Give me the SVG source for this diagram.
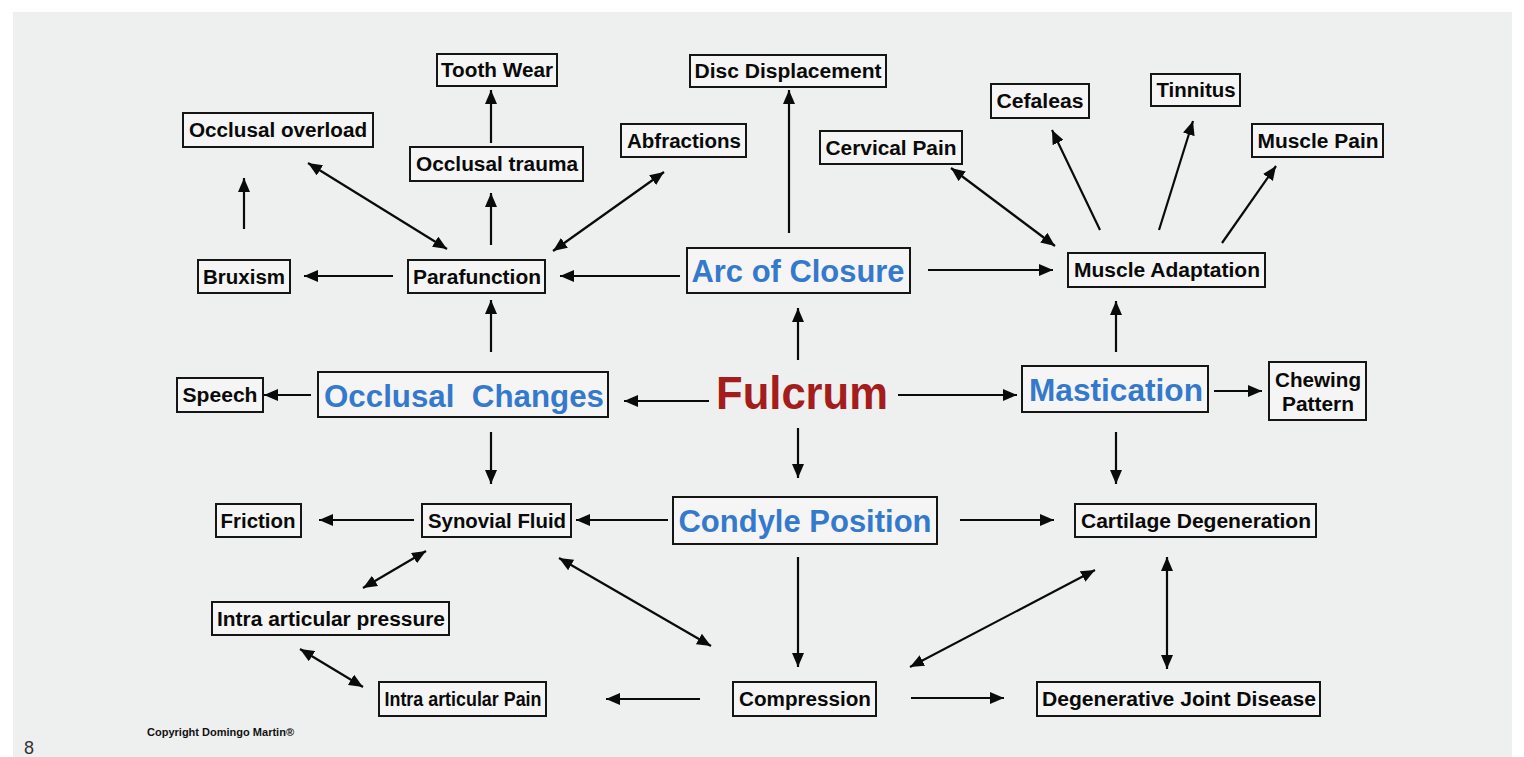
<svg xmlns="http://www.w3.org/2000/svg" width="1524" height="757" viewBox="0 0 1524 757">
<style>
.bx{fill:#f4f5f4;stroke:#151515;stroke-width:2}
.t{font-family:"Liberation Sans",Arial,sans-serif;font-weight:bold;font-size:20px;fill:#0a0a0a;text-anchor:middle}
.b{font-family:"Liberation Sans",Arial,sans-serif;font-weight:bold;font-size:32px;fill:#3579cc;text-anchor:middle}
.r{font-family:"Liberation Sans",Arial,sans-serif;font-weight:bold;font-size:47px;fill:#a51c1c;text-anchor:middle}
.c line{stroke:#0a0a0a;stroke-width:2.2;fill:none}
.one{marker-end:url(#ah)}
.two{marker-start:url(#ah);marker-end:url(#ah)}
</style>
<defs>
<marker id="ah" markerUnits="userSpaceOnUse" markerWidth="14" markerHeight="12" refX="14" refY="6" orient="auto-start-reverse" viewBox="0 0 14 12">
<path d="M0,0 L14,6 L0,12 z" fill="#0a0a0a"/>
</marker>
</defs>
<rect x="0" y="0" width="1524" height="757" fill="#ffffff"/>
<rect x="13" y="12" width="1499" height="745" fill="#eef0ef"/>

<g class="c" id="connectors">
<line class="one" x1="244" y1="229" x2="244" y2="178"/>
<line class="two" x1="447" y1="249" x2="308" y2="163"/>
<line class="one" x1="491" y1="245" x2="491" y2="193"/>
<line class="one" x1="491" y1="143" x2="491" y2="90"/>
<line class="two" x1="553" y1="251" x2="664" y2="172"/>
<line class="one" x1="393" y1="276" x2="304" y2="276"/>
<line class="one" x1="680" y1="276" x2="560" y2="276"/>
<line class="one" x1="789" y1="233" x2="789" y2="90"/>
<line class="one" x1="928" y1="270" x2="1053" y2="270"/>
<line class="two" x1="1055" y1="246" x2="951" y2="168"/>
<line class="one" x1="1100" y1="230" x2="1052" y2="130"/>
<line class="one" x1="1159" y1="230" x2="1193" y2="121"/>
<line class="one" x1="1222" y1="243" x2="1276" y2="166"/>
<line class="one" x1="1116" y1="352" x2="1116" y2="301"/>
<line class="one" x1="491" y1="352" x2="491" y2="300"/>
<line class="one" x1="798" y1="360" x2="798" y2="308"/>
<line class="one" x1="311" y1="395" x2="264" y2="395"/>
<line class="one" x1="709" y1="401" x2="624" y2="401"/>
<line class="one" x1="898" y1="395" x2="1017" y2="395"/>
<line class="one" x1="1214" y1="391" x2="1262" y2="391"/>
<line class="one" x1="798" y1="428" x2="798" y2="478"/>
<line class="one" x1="491" y1="432" x2="491" y2="484"/>
<line class="one" x1="1116" y1="432" x2="1116" y2="484"/>
<line class="one" x1="414" y1="520" x2="319" y2="520"/>
<line class="one" x1="668" y1="520" x2="576" y2="520"/>
<line class="one" x1="960" y1="520" x2="1054" y2="520"/>
<line class="two" x1="426" y1="551" x2="363" y2="588"/>
<line class="two" x1="559" y1="558" x2="711" y2="646"/>
<line class="one" x1="798" y1="557" x2="798" y2="667"/>
<line class="two" x1="910" y1="667" x2="1095" y2="570"/>
<line class="two" x1="1167" y1="557" x2="1167" y2="669"/>
<line class="two" x1="300" y1="649" x2="363" y2="687"/>
<line class="one" x1="700" y1="699" x2="606" y2="699"/>
<line class="one" x1="911" y1="698" x2="1004" y2="698"/>
</g>

<g id="tooth-wear"><rect class="bx" x="437" y="54" width="120" height="32"/><text class="t" x="497" y="77" textLength="112" lengthAdjust="spacingAndGlyphs">Tooth Wear</text></g>
<g id="occlusal-overload"><rect class="bx" x="183" y="113" width="190" height="34"/><text class="t" x="278" y="137" textLength="178" lengthAdjust="spacingAndGlyphs">Occlusal overload</text></g>
<g id="occlusal-trauma"><rect class="bx" x="410" y="147" width="173" height="34"/><text class="t" x="497" y="171" textLength="162" lengthAdjust="spacingAndGlyphs">Occlusal trauma</text></g>
<g id="abfractions"><rect class="bx" x="621" y="124" width="125" height="33"/><text class="t" x="684" y="148" textLength="114" lengthAdjust="spacingAndGlyphs">Abfractions</text></g>
<g id="disc-displacement"><rect class="bx" x="690" y="55" width="196" height="32"/><text class="t" x="788" y="78" textLength="187" lengthAdjust="spacingAndGlyphs">Disc Displacement</text></g>
<g id="cervical-pain"><rect class="bx" x="820" y="131" width="142" height="33"/><text class="t" x="891" y="155" textLength="131" lengthAdjust="spacingAndGlyphs">Cervical Pain</text></g>
<g id="cefaleas"><rect class="bx" x="991" y="84" width="98" height="34"/><text class="t" x="1040" y="108" textLength="87" lengthAdjust="spacingAndGlyphs">Cefaleas</text></g>
<g id="tinnitus"><rect class="bx" x="1151" y="74" width="89" height="32"/><text class="t" x="1196" y="97" textLength="79" lengthAdjust="spacingAndGlyphs">Tinnitus</text></g>
<g id="muscle-pain"><rect class="bx" x="1252" y="124" width="131" height="33"/><text class="t" x="1318" y="148" textLength="121" lengthAdjust="spacingAndGlyphs">Muscle Pain</text></g>
<g id="bruxism"><rect class="bx" x="198" y="260" width="92" height="33"/><text class="t" x="244" y="284" textLength="82" lengthAdjust="spacingAndGlyphs">Bruxism</text></g>
<g id="parafunction"><rect class="bx" x="408" y="260" width="137" height="33"/><text class="t" x="477" y="284" textLength="128" lengthAdjust="spacingAndGlyphs">Parafunction</text></g>
<g id="arc-of-closure"><rect class="bx" x="687" y="248" width="223" height="45"/><text class="b" x="798" y="282" textLength="213" lengthAdjust="spacingAndGlyphs">Arc of Closure</text></g>
<g id="muscle-adaptation"><rect class="bx" x="1068" y="253" width="197" height="34"/><text class="t" x="1167" y="277" textLength="186" lengthAdjust="spacingAndGlyphs">Muscle Adaptation</text></g>
<g id="speech"><rect class="bx" x="177" y="378" width="86" height="34"/><text class="t" x="220" y="402" textLength="75" lengthAdjust="spacingAndGlyphs">Speech</text></g>
<g id="occlusal-changes"><rect class="bx" x="318" y="372" width="290" height="45"/><text class="b" x="464" y="407" textLength="280" lengthAdjust="spacingAndGlyphs" xml:space="preserve">Occlusal  Changes</text></g>
<g id="fulcrum"><text class="r" x="802" y="409" textLength="172" lengthAdjust="spacingAndGlyphs">Fulcrum</text></g>
<g id="mastication"><rect class="bx" x="1022" y="366" width="186" height="46"/><text class="b" x="1116" y="401" textLength="174" lengthAdjust="spacingAndGlyphs">Mastication</text></g>
<g id="chewing-pattern"><rect class="bx" x="1269" y="362" width="97" height="58"/><text class="t" x="1318" y="387" textLength="86" lengthAdjust="spacingAndGlyphs">Chewing</text><text class="t" x="1318" y="411" textLength="72" lengthAdjust="spacingAndGlyphs">Pattern</text></g>
<g id="friction"><rect class="bx" x="216" y="504" width="85" height="33"/><text class="t" x="258" y="528" textLength="75" lengthAdjust="spacingAndGlyphs">Friction</text></g>
<g id="synovial-fluid"><rect class="bx" x="422" y="504" width="149" height="33"/><text class="t" x="497" y="528" textLength="138" lengthAdjust="spacingAndGlyphs">Synovial Fluid</text></g>
<g id="condyle-position"><rect class="bx" x="673" y="497" width="264" height="47"/><text class="b" x="805" y="532" textLength="253" lengthAdjust="spacingAndGlyphs">Condyle Position</text></g>
<g id="cartilage-degeneration"><rect class="bx" x="1075" y="504" width="241" height="33"/><text class="t" x="1196" y="528" textLength="230" lengthAdjust="spacingAndGlyphs">Cartilage Degeneration</text></g>
<g id="intra-articular-pressure"><rect class="bx" x="212" y="602" width="237" height="33"/><text class="t" x="331" y="626" textLength="228" lengthAdjust="spacingAndGlyphs">Intra articular pressure</text></g>
<g id="intra-articular-pain"><rect class="bx" x="379" y="682" width="167" height="34"/><text class="t" x="463" y="706" textLength="157" lengthAdjust="spacingAndGlyphs">Intra articular Pain</text></g>
<g id="compression"><rect class="bx" x="733" y="682" width="143" height="34"/><text class="t" x="805" y="706" textLength="132" lengthAdjust="spacingAndGlyphs">Compression</text></g>
<g id="degenerative-joint-disease"><rect class="bx" x="1037" y="682" width="283" height="34"/><text class="t" x="1179" y="706" textLength="274" lengthAdjust="spacingAndGlyphs">Degenerative Joint Disease</text></g>

<text x="147" y="736" font-family="Liberation Sans, Arial, sans-serif" font-weight="bold" font-size="10" fill="#111" textLength="147" lengthAdjust="spacingAndGlyphs">Copyright Domingo Martin®</text>
<text x="24" y="754" font-family="Liberation Sans, Arial, sans-serif" font-size="18" fill="#333">8</text>
</svg>
